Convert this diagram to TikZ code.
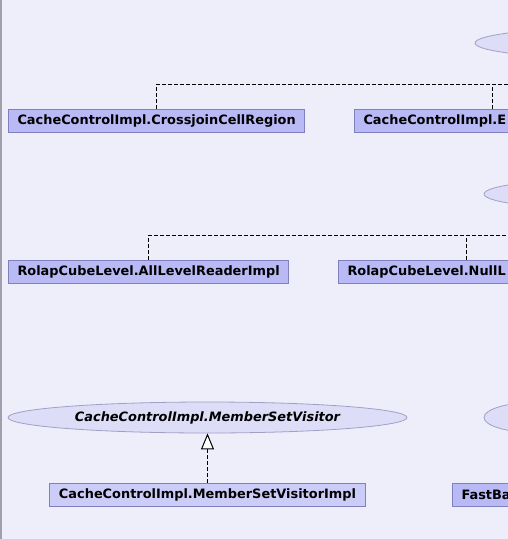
\documentclass[tikz,border=0pt]{standalone}
\usepackage{fontspec}
\setmainfont{DejaVu Sans}
\usepackage{tikz}
\usetikzlibrary{shapes.geometric}
\usetikzlibrary{arrows.meta}
\definecolor{bgcol}{RGB}{238,238,251}
\definecolor{edgecol}{RGB}{160,160,172}
\definecolor{clsfill}{RGB}{185,185,246}
\definecolor{clslite}{RGB}{204,204,248}
\definecolor{clsline}{RGB}{128,128,190}
\definecolor{ifcfill}{RGB}{221,221,248}
\definecolor{ifcline}{RGB}{160,160,196}

\begin{document}
\begin{tikzpicture}[x=1pt,y=-1pt,
		cls/.style={rectangle,draw=clsline,fill=clsfill,line width=1pt,inner xsep=9pt,inner ysep=0pt,minimum height=23pt,font=\fontsize{12.9}{15}\selectfont\bfseries},
		cut/.style={anchor=west,align=left,text width=#1},
		ifc/.style={ellipse,draw=ifcline,fill=ifcfill,line width=0.8pt,inner sep=0pt,minimum height=31pt,font=\fontsize{12.9}{15}\selectfont\bfseries\itshape},
		dep/.style={draw=black,line width=1pt,dash pattern=on 4pt off 2pt}]
			\useasboundingbox (0,0) rectangle (508,539);
			\fill[bgcol] (0,0) rectangle (508,539);
			\draw[edgecol,line width=2pt] (1,0)--(1,539);
			\clip (0,0) rectangle (508,539);
			
			% first row
			\node[ifc,minimum width=280pt] (E1) at (615,43) {};
			\node[cls,anchor=west] (CR) at (8,120.5) {CacheControlImpl.CrossjoinCellRegion};
			\node[cls,cut=258pt] (ER) at (354,120.5) {CacheControlImpl.E};
			\coordinate (H1) at (615,84);
			\draw[dep] (CR.north) |- (H1);
			\draw[dep] (ER.north) |- (H1);
			
			% second row
			\node[ifc,minimum width=258pt] (E2) at (613,194) {};
			\node[cls,anchor=west] (AL) at (8,271.5) {RolapCubeLevel.AllLevelReaderImpl};
			\node[cls,cut=238pt] (NL) at (338,271.5) {RolapCubeLevel.NullL};
			\coordinate (H2) at (613,235);
			\draw[dep] (AL.north) |- (H2);
			\draw[dep] (NL.north) |- (H2);
			
			% third row
			\node[ifc,minimum width=399pt] (MSV) at (207.5,417.5) {CacheControlImpl.MemberSetVisitor};
			\node[ifc,minimum width=110pt] (E3) at (539,417.5) {};
			\node[cls,fill=clslite] (MSI) at (207.5,495) {CacheControlImpl.MemberSetVisitorImpl};
			\node[cls,cut=150pt] (FB) at (452,495) {FastBa};
			\draw[dep,-{Triangle[length=16pt,width=13pt,fill=white]}] (MSI)--(MSV);
		\end{tikzpicture}
\end{document}
